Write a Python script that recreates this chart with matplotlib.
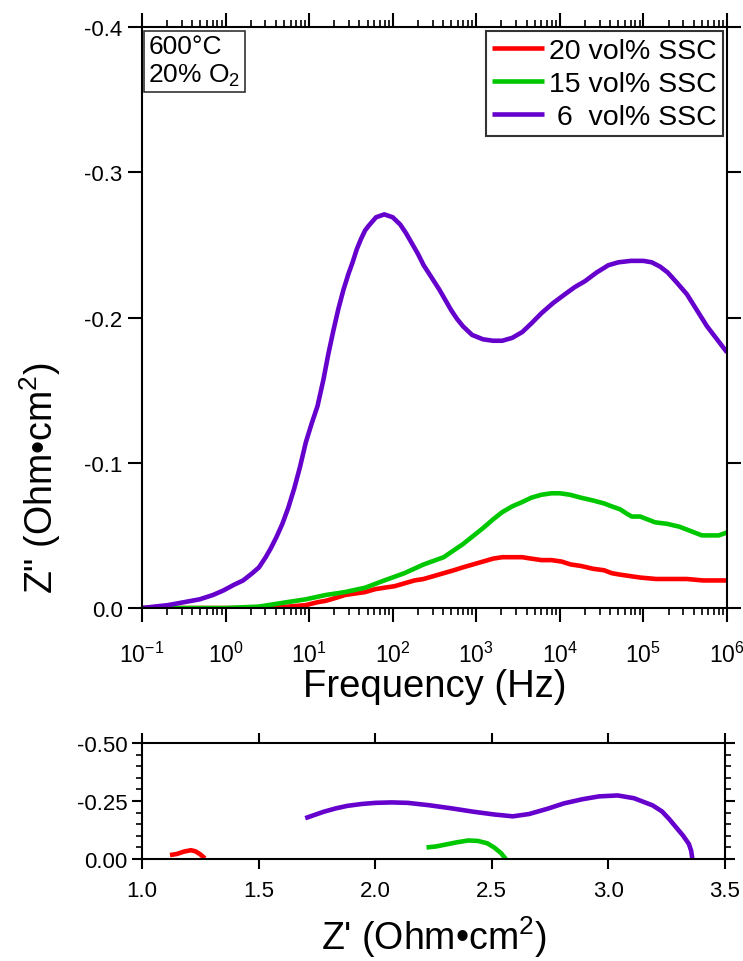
import matplotlib
matplotlib.use('Agg')
from matplotlib import pyplot as plt
from matplotlib.ticker import FixedLocator, LogLocator, MultipleLocator, FormatStrFormatter, NullFormatter
import numpy as np

plt.rcParams['font.family'] = 'Liberation Sans'
plt.rcParams['mathtext.fontset'] = 'custom'
plt.rcParams['mathtext.rm'] = 'Liberation Sans'
plt.rcParams['mathtext.it'] = 'Liberation Sans:italic'
plt.rcParams['mathtext.bf'] = 'Liberation Sans:bold'
plt.rcParams['axes.unicode_minus'] = False

labels = ['20 vol% SSC', '15 vol% SSC', ' 6  vol% SSC']
colors = ['#ff0000', '#00c800', '#6600cc']

# Bode data: log10(frequency / Hz) and Z'' (Ohm cm^2)
logf_20 = [-1.0, 0.0, 0.49, 0.75, 0.96, 1.10, 1.20, 1.32, 1.43, 1.55, 1.67, 1.79, 1.90,
           2.02, 2.14, 2.26, 2.37, 2.49, 2.61, 2.73, 2.84, 2.96, 3.08, 3.20, 3.31, 3.43,
           3.55, 3.66, 3.78, 3.90, 4.02, 4.13, 4.25, 4.40, 4.53, 4.62, 4.72, 4.84, 4.96,
           5.15, 5.33, 5.52, 5.71, 5.85, 6.0]
zim_20 = [0.0, 0.0, 0.0, -0.001, -0.002, -0.004, -0.005, -0.007, -0.009, -0.010, -0.011,
          -0.013, -0.014, -0.015, -0.017, -0.019, -0.020, -0.022, -0.024, -0.026, -0.028,
          -0.030, -0.032, -0.034, -0.035, -0.035, -0.035, -0.034, -0.033, -0.033, -0.032,
          -0.030, -0.029, -0.027, -0.026, -0.024, -0.023, -0.022, -0.021, -0.020, -0.020,
          -0.020, -0.019, -0.019, -0.019]

logf_15 = [-1.0, -0.5, 0.0, 0.4, 0.73, 0.96, 1.20, 1.43, 1.67, 1.90, 2.14, 2.37, 2.61,
           2.84, 3.08, 3.20, 3.31, 3.43, 3.55, 3.66, 3.78, 3.90, 4.00, 4.12, 4.25, 4.40,
           4.53, 4.62, 4.72, 4.80, 4.86, 4.96, 5.05, 5.14, 5.28, 5.43, 5.52, 5.61, 5.70,
           5.80, 5.90, 6.0]
zim_15 = [0.0, 0.0, 0.0, -0.001, -0.004, -0.006, -0.009, -0.011, -0.014, -0.019, -0.024,
          -0.030, -0.035, -0.044, -0.055, -0.061, -0.066, -0.070, -0.073, -0.076, -0.078,
          -0.079, -0.079, -0.078, -0.076, -0.074, -0.072, -0.070, -0.068, -0.065, -0.063,
          -0.063, -0.061, -0.059, -0.058, -0.056, -0.054, -0.052, -0.050, -0.050, -0.050,
          -0.052]

logf_6 = [-1.0, -0.85, -0.69, -0.5, -0.31, -0.15, -0.03, 0.10, 0.21, 0.32, 0.40, 0.48,
          0.54, 0.61, 0.68, 0.75, 0.82, 0.89, 0.96, 1.03, 1.10, 1.17, 1.23, 1.29, 1.35,
          1.41, 1.47, 1.52, 1.57, 1.62, 1.67, 1.71, 1.80, 1.90, 2.00, 2.09, 2.16, 2.23,
          2.30, 2.37, 2.46, 2.56, 2.63, 2.70, 2.77, 2.84, 2.95, 3.08, 3.20, 3.31, 3.43,
          3.55, 3.66, 3.78, 3.92, 4.06, 4.18, 4.30, 4.44, 4.58, 4.70, 4.85, 5.00, 5.10,
          5.20, 5.29, 5.40, 5.52, 5.64, 5.76, 5.88, 6.0]
zim_6 = [0.0, -0.001, -0.002, -0.004, -0.006, -0.009, -0.012, -0.016, -0.019, -0.024,
         -0.028, -0.035, -0.041, -0.049, -0.058, -0.069, -0.082, -0.097, -0.114, -0.127,
         -0.139, -0.157, -0.175, -0.191, -0.206, -0.219, -0.230, -0.238, -0.247, -0.254,
         -0.260, -0.263, -0.269, -0.271, -0.269, -0.264, -0.258, -0.251, -0.244, -0.236,
         -0.228, -0.219, -0.212, -0.205, -0.199, -0.194, -0.188, -0.185, -0.184, -0.184,
         -0.186, -0.190, -0.196, -0.203, -0.210, -0.216, -0.221, -0.225, -0.231, -0.236,
         -0.238, -0.239, -0.239, -0.238, -0.235, -0.231, -0.224, -0.216, -0.205, -0.194,
         -0.185, -0.176]

# Nyquist data: Z' and Z'' (Ohm cm^2)
zre_nyq_20 = [1.12, 1.15, 1.18, 1.21, 1.23, 1.25, 1.27]
zim_nyq_20 = [-0.017, -0.022, -0.032, -0.038, -0.033, -0.020, -0.003]

zre_nyq_15 = [2.22, 2.26, 2.30, 2.35, 2.40, 2.44, 2.48, 2.51, 2.54, 2.56]
zim_nyq_15 = [-0.050, -0.054, -0.062, -0.072, -0.080, -0.078, -0.068, -0.050, -0.025, 0.0]

zre_nyq_6 = [1.70, 1.74, 1.78, 1.83, 1.88, 1.94, 2.00, 2.07, 2.14, 2.23, 2.33, 2.42, 2.51,
             2.59, 2.66, 2.74, 2.81, 2.89, 2.96, 3.04, 3.11, 3.19, 3.23, 3.26, 3.30, 3.32,
             3.345, 3.355, 3.36]
zim_nyq_6 = [-0.176, -0.190, -0.204, -0.218, -0.229, -0.237, -0.242, -0.244, -0.242,
             -0.232, -0.218, -0.204, -0.192, -0.184, -0.194, -0.217, -0.240, -0.258, -0.270,
             -0.274, -0.262, -0.231, -0.205, -0.173, -0.125, -0.101, -0.065, -0.035, 0.0]

bode = [(logf_20, zim_20), (logf_15, zim_15), (logf_6, zim_6)]
nyquist = [(zre_nyq_20, zim_nyq_20), (zre_nyq_15, zim_nyq_15), (zre_nyq_6, zim_nyq_6)]


def style_axes(ax, major_len, minor_len):
    for s in ax.spines.values():
        s.set_linewidth(1.5)
    ax.tick_params(which='both', direction='out', top=True, right=True,
                   width=1.5, labelsize=16, colors='black')
    ax.tick_params(which='major', length=major_len)
    ax.tick_params(which='minor', length=minor_len, width=1.2)


fig = plt.figure(figsize=(7.43, 9.62), dpi=100)

# impedance vs. frequency
ax1 = fig.add_axes([0.1911, 0.3669, 0.7874, 0.6040])
for (lf, z), c, lab in zip(bode, colors, labels):
    ax1.plot(10 ** np.array(lf), z, color=c, lw=3.3, label=lab, solid_capstyle='butt')
ax1.set_xscale('log')
ax1.set_xlim(0.1, 1e6)
ax1.set_ylim(0.0, -0.4)
ax1.xaxis.set_major_locator(LogLocator(base=10, numticks=20))
ax1.xaxis.set_minor_locator(LogLocator(base=10, subs=np.arange(2, 10), numticks=20))
ax1.xaxis.set_minor_formatter(NullFormatter())
ax1.yaxis.set_major_locator(FixedLocator([0.0, -0.1, -0.2, -0.3, -0.4]))
ax1.yaxis.set_major_formatter(FormatStrFormatter('%.1f'))
style_axes(ax1, 10, 5)
ax1.tick_params(axis='x', which='major', pad=14, labelsize=16.5)
ax1.tick_params(axis='y', which='major', pad=4)
ax1.set_xlabel('Frequency (Hz)', fontsize=27.5, labelpad=1)
ax1.set_ylabel('Z" (Ohm•cm$^{2}$)', fontsize=27)
ax1.yaxis.set_label_coords(-0.135, 0.225)

leg = ax1.legend(loc='upper right', fontsize=20.5, frameon=True, fancybox=False,
                 edgecolor='#333333', framealpha=1, borderpad=0.22, labelspacing=0.25,
                 handlelength=1.85, handletextpad=0.15, borderaxespad=0.15)
leg.get_frame().set_linewidth(1.5)

ax1.text(0.011, 0.988, '600°C\n20% O$_2$', transform=ax1.transAxes, fontsize=19,
         va='top', ha='left', linespacing=1.2,
         bbox=dict(boxstyle='square,pad=0.15', fc='white', ec='#333333', lw=1.2))

# Nyquist plot
ax2 = fig.add_axes([0.1911, 0.1060, 0.7847, 0.1206])
for (zr, zi), c in zip(nyquist, colors):
    ax2.plot(zr, zi, color=c, lw=3.3, solid_capstyle='butt')
ax2.set_xlim(1.0, 3.5)
ax2.set_ylim(0.0, -0.5)
ax2.xaxis.set_major_locator(MultipleLocator(0.5))
ax2.xaxis.set_major_formatter(FormatStrFormatter('%.1f'))
ax2.yaxis.set_major_locator(FixedLocator([0.0, -0.25, -0.5]))
ax2.yaxis.set_minor_locator(FixedLocator([-0.05, -0.1, -0.15, -0.2, -0.3, -0.35, -0.4, -0.45]))
ax2.yaxis.set_major_formatter(FormatStrFormatter('%.2f'))
style_axes(ax2, 7, 4.5)
ax2.tick_params(axis='x', which='major', pad=8)
ax2.set_xlabel("Z' (Ohm•cm$^{2}$)", fontsize=27, labelpad=9)

fig.savefig('out.png', dpi=100)
